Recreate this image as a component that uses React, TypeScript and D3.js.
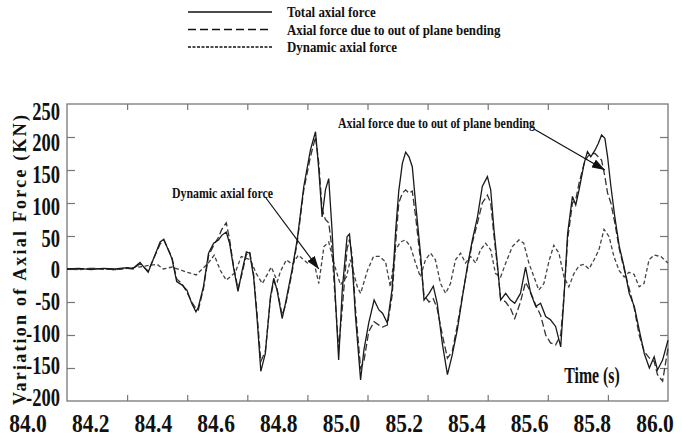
import React, { useEffect, useRef } from 'react';
import * as d3 from 'd3';

// time axis ticks (s) and force axis ticks (kN)
const timeTicks = [84.0, 84.2, 84.4, 84.6, 84.8, 85.0, 85.2, 85.4, 85.6, 85.8, 86.0];
const forceTicks = [250, 200, 150, 100, 50, 0, -50, -100, -150, -200];

// total axial force + bending part share the same time samples
const totalTime = [
  84.0, 84.04, 84.08, 84.12, 84.16, 84.2, 84.22, 84.243, 84.27, 84.31, 84.322, 84.349, 84.365, 84.382, 84.399,
  84.415, 84.429, 84.437, 84.454, 84.471, 84.488, 84.504, 84.515, 84.53, 84.541, 84.554, 84.569, 84.582, 84.597,
  84.608, 84.621, 84.632, 84.645, 84.66, 84.677, 84.688, 84.699, 84.716, 84.727, 84.749, 84.766, 84.788, 84.81,
  84.827, 84.838, 84.849, 84.86, 84.871, 84.882, 84.893, 84.904, 84.916, 84.932, 84.94, 84.949, 84.96, 84.977,
  84.988, 85.004, 85.022, 85.038, 85.05, 85.066, 85.082, 85.094, 85.104, 85.116, 85.127, 85.138, 85.149, 85.16,
  85.177, 85.188, 85.205, 85.219, 85.232, 85.249, 85.266, 85.282, 85.299, 85.316, 85.332, 85.349, 85.366, 85.382,
  85.399, 85.41, 85.421, 85.432, 85.443, 85.46, 85.476, 85.49, 85.509, 85.526, 85.543, 85.56, 85.576, 85.593,
  85.609, 85.626, 85.643, 85.654, 85.666, 85.682, 85.693, 85.704, 85.721, 85.732, 85.743, 85.757, 85.768, 85.779,
  85.79, 85.799, 85.81, 85.823, 85.838, 85.854, 85.871, 85.888, 85.904, 85.921, 85.938, 85.954, 85.965, 85.982, 86.0,
];
const totalForce = [
  0, 1, -1, 1, 0, 2, 1, 10, -5, 41, 45, 16, -19, -24, -32,
  -52, -65, -58, -27, 24, 39, 44, 51, 56, 39, 3, -34, -4, 26,
  24, -12, -72, -155, -128, -42, -14, -32, -75, -52, -1, 44, 125, 180,
  208, 150, 79, 120, 137, 59, -42, -138, -32, 49, 53, 9, -72, -168,
  -123, -82, -47, -62, -67, -82, -30, 60, 118, 160, 177, 170, 155, 100,
  20, -47, -37, -26, -52, -113, -160, -130, -92, -42, 3, 44, 79, 125,
  140, 120, 59, 9, -47, -37, -47, -52, -37, 3, -37, -57, -52, -72,
  -77, -87, -118, -42, 54, 110, 97, 120, 160, 178, 170, 180, 190, 203,
  198, 170, 125, 79, 34, 3, -37, -57, -92, -128, -150, -133, -153, -138, -108,
];
const bendingForce = [
  0, 0, 1, 0, -1, 1, 0, 8, -3, 38, 44, 18, -15, -22, -35,
  -50, -60, -62, -30, 20, 36, 48, 60, 70, 45, 5, -30, -8, 22,
  26, -8, -65, -140, -125, -45, -18, -30, -70, -55, -5, 40, 120, 170,
  200, 160, 90, 75, 70, 30, -50, -120, -60, 30, 45, 20, -60, -150,
  -140, -95, -80, -85, -88, -85, -40, 40, 100, 115, 120, 115, 118, 80,
  10, -40, -50, -45, -60, -100, -135, -125, -85, -40, 0, 40, 70, 100,
  112, 100, 50, 5, -45, -50, -60, -75, -50, -20, -35, -55, -70, -100,
  -112, -115, -100, -40, 45, 100, 105, 130, 160, 170, 175, 175, 170, 165,
  140, 115, 100, 70, 30, 0, -30, -60, -100, -125, -135, -140, -160, -170, -120,
];

const dynamicTime = [
  84.0, 84.04, 84.08, 84.12, 84.16, 84.2, 84.24, 84.28, 84.3, 84.32, 84.35, 84.4, 84.43, 84.47, 84.49, 84.51,
  84.53, 84.56, 84.58, 84.61, 84.63, 84.65, 84.68, 84.7, 84.71, 84.73, 84.75, 84.77, 84.8, 84.82, 84.838,
  84.855, 84.871, 84.888, 84.91, 84.93, 84.943, 84.966, 84.977, 85.0, 85.02, 85.04, 85.06, 85.076, 85.093,
  85.11, 85.126, 85.143, 85.16, 85.176, 85.193, 85.21, 85.226, 85.243, 85.26, 85.276, 85.293, 85.31, 85.326,
  85.343, 85.36, 85.376, 85.393, 85.41, 85.426, 85.443, 85.46, 85.482, 85.504, 85.52, 85.537, 85.554, 85.57,
  85.587, 85.604, 85.62, 85.637, 85.654, 85.67, 85.687, 85.704, 85.72, 85.737, 85.754, 85.77, 85.787, 85.804,
  85.82, 85.837, 85.854, 85.87, 85.887, 85.904, 85.92, 85.937, 85.954, 85.976, 86.0,
];
const dynamicForce = [
  0, -1, 1, 0, -1, 1, 3, 6, 7, 0, 3, -5, -9, 9, 21, -2,
  -17, -5, 19, 14, -7, -22, 3, -19, -4, 14, 7, 21, 9, 14, -22,
  34, 41, 9, -24, -12, 14, -27, -37, -2, 19, 19, 11, -27, 29,
  41, 44, 34, 9, -12, 14, 24, 14, -22, -37, -22, 14, 24, 9,
  19, 9, 29, 39, 29, -7, -12, 9, 34, 44, 39, 9, -12, -32,
  -22, 12, 36, 24, -12, -27, -7, 5, 7, 0, 14, 29, 60, 49,
  19, -2, -12, -5, -8, -27, -22, 14, 21, 19, 9,
];

const legendLabels = ['Total axial force', 'Axial force due to out of plane bending', 'Dynamic axial force'];
const legendDash = ['', '8,4', '3,1.5'];

const FONT = '"Liberation Serif", "Times New Roman", serif';

const App: React.FC = () => {
  const svgRef = useRef<SVGSVGElement | null>(null);

  useEffect(() => {
    const svg = d3.select(svgRef.current);
    svg.selectAll('*').remove();

    const left = 67, right = 668, top = 104, bottom = 401;
    const x = d3.scaleLinear().domain([84, 86]).range([left, right]);
    const y = d3.scaleLinear().domain([-200, 250]).range([bottom, top]);
    // the tick labels in the original sit a little off the tick marks
    const xLab = d3.scaleLinear().domain([84, 86]).range([28, 655]);
    const yLab = d3.scaleLinear().domain([-200, 250]).range([397, 111]);

    const defs = svg.append('defs');
    defs.append('marker')
      .attr('id', 'head')
      .attr('viewBox', '0 0 13 9')
      .attr('refX', 13).attr('refY', 4.5)
      .attr('markerWidth', 13).attr('markerHeight', 9)
      .attr('markerUnits', 'userSpaceOnUse')
      .attr('orient', 'auto')
      .append('path').attr('d', 'M0,0 L13,4.5 L0,9 Z').attr('fill', '#111');

    // legend
    legendLabels.forEach((lab, i) => {
      const ly = 12 + i * 17.5;
      svg.append('line')
        .attr('x1', 188).attr('x2', 272).attr('y1', ly).attr('y2', ly)
        .attr('stroke', '#111').attr('stroke-width', 1.6)
        .attr('stroke-dasharray', legendDash[i]);
      svg.append('text')
        .attr('transform', `translate(287,${ly + 5}) scale(0.86,1)`)
        .attr('font-family', FONT).attr('font-weight', 'bold').attr('font-size', 15)
        .attr('fill', '#111')
        .text(lab);
    });

    // axes: ticks point inward, labels drawn separately
    const tickCol = '#777';
    const ax = svg.append('g');
    ax.append('g').attr('transform', `translate(0,${bottom})`)
      .call(d3.axisBottom(x).tickValues(timeTicks.slice(1, -1)).tickSizeInner(-6).tickSizeOuter(0).tickFormat(() => ''));
    ax.append('g').attr('transform', `translate(0,${top})`)
      .call(d3.axisTop(x).tickValues(timeTicks.slice(1, -1)).tickSizeInner(-6).tickSizeOuter(0).tickFormat(() => ''));
    ax.append('g').attr('transform', `translate(${left},0)`)
      .call(d3.axisLeft(y).tickValues(forceTicks.slice(1, -1)).tickSizeInner(-8).tickSizeOuter(0).tickFormat(() => ''));
    ax.append('g').attr('transform', `translate(${right},0)`)
      .call(d3.axisRight(y).tickValues(forceTicks.slice(1, -1)).tickSizeInner(-8).tickSizeOuter(0).tickFormat(() => ''));
    ax.selectAll('path.domain').remove();
    ax.selectAll('line').attr('stroke', tickCol).attr('stroke-width', 1.2);
    svg.append('rect')
      .attr('x', left).attr('y', top).attr('width', right - left).attr('height', bottom - top)
      .attr('fill', 'none').attr('stroke', tickCol).attr('stroke-width', 1.3);

    timeTicks.forEach((t) => {
      svg.append('text')
        .attr('transform', `translate(${xLab(t)},432) scale(0.86,1)`)
        .attr('text-anchor', 'middle')
        .attr('font-family', FONT).attr('font-weight', 'bold').attr('font-size', 25)
        .attr('fill', '#111')
        .text(t.toFixed(1));
    });
    forceTicks.forEach((v) => {
      svg.append('text')
        .attr('transform', `translate(60,${yLab(v) + 8.5}) scale(0.74,1)`)
        .attr('text-anchor', 'end')
        .attr('font-family', FONT).attr('font-weight', 'bold').attr('font-size', 25)
        .attr('fill', '#111')
        .text(String(v));
    });

    svg.append('text')
      .attr('transform', 'translate(26,405) rotate(-90)')
      .attr('font-family', FONT).attr('font-weight', 'bold').attr('font-size', 18)
      .attr('textLength', 290).attr('lengthAdjust', 'spacing')
      .attr('fill', '#111')
      .text('Variation of Axial Force (KN)');

    // series
    const plot = svg.append('g');
    const mk = (ts: number[], vs: number[]) =>
      d3.line<number>().x((_, i) => x(ts[i])).y((d) => y(d))(vs) || '';

    plot.append('path').attr('d', mk(dynamicTime, dynamicForce))
      .attr('fill', 'none').attr('stroke', '#444').attr('stroke-width', 1.3).attr('stroke-dasharray', '4,2.5');
    plot.append('path').attr('d', mk(totalTime, bendingForce))
      .attr('fill', 'none').attr('stroke', '#333').attr('stroke-width', 1.3).attr('stroke-dasharray', '7,3');
    plot.append('path').attr('d', mk(totalTime, totalForce))
      .attr('fill', 'none').attr('stroke', '#1a1a1a').attr('stroke-width', 1.3);

    // annotations
    svg.append('text')
      .attr('x', 338).attr('y', 128)
      .attr('font-family', FONT).attr('font-weight', 'bold').attr('font-size', 15)
      .attr('textLength', 197).attr('lengthAdjust', 'spacingAndGlyphs')
      .attr('fill', '#111')
      .text('Axial force due to out of plane bending');
    svg.append('line')
      .attr('x1', 534).attr('y1', 129).attr('x2', x(85.79)).attr('y2', y(150))
      .attr('stroke', '#111').attr('stroke-width', 1.2).attr('marker-end', 'url(#head)');

    svg.append('text')
      .attr('x', 172).attr('y', 198)
      .attr('font-family', FONT).attr('font-weight', 'bold').attr('font-size', 15)
      .attr('textLength', 101).attr('lengthAdjust', 'spacingAndGlyphs')
      .attr('fill', '#111')
      .text('Dynamic axial force');
    svg.append('line')
      .attr('x1', 266).attr('y1', 198).attr('x2', x(84.838)).attr('y2', y(0))
      .attr('stroke', '#111').attr('stroke-width', 1.2).attr('marker-end', 'url(#head)');

    svg.append('text')
      .attr('transform', 'translate(592,383) scale(0.66,1)')
      .attr('text-anchor', 'middle')
      .attr('font-family', FONT).attr('font-weight', 'bold').attr('font-size', 24)
      .attr('fill', '#111')
      .text('Time (s)');
  }, []);

  return (
    <svg
      ref={svgRef}
      width={682}
      height={440}
      style={{ position: 'absolute', left: 0, top: 0, background: '#fff' }}
    />
  );
};

export default App;
